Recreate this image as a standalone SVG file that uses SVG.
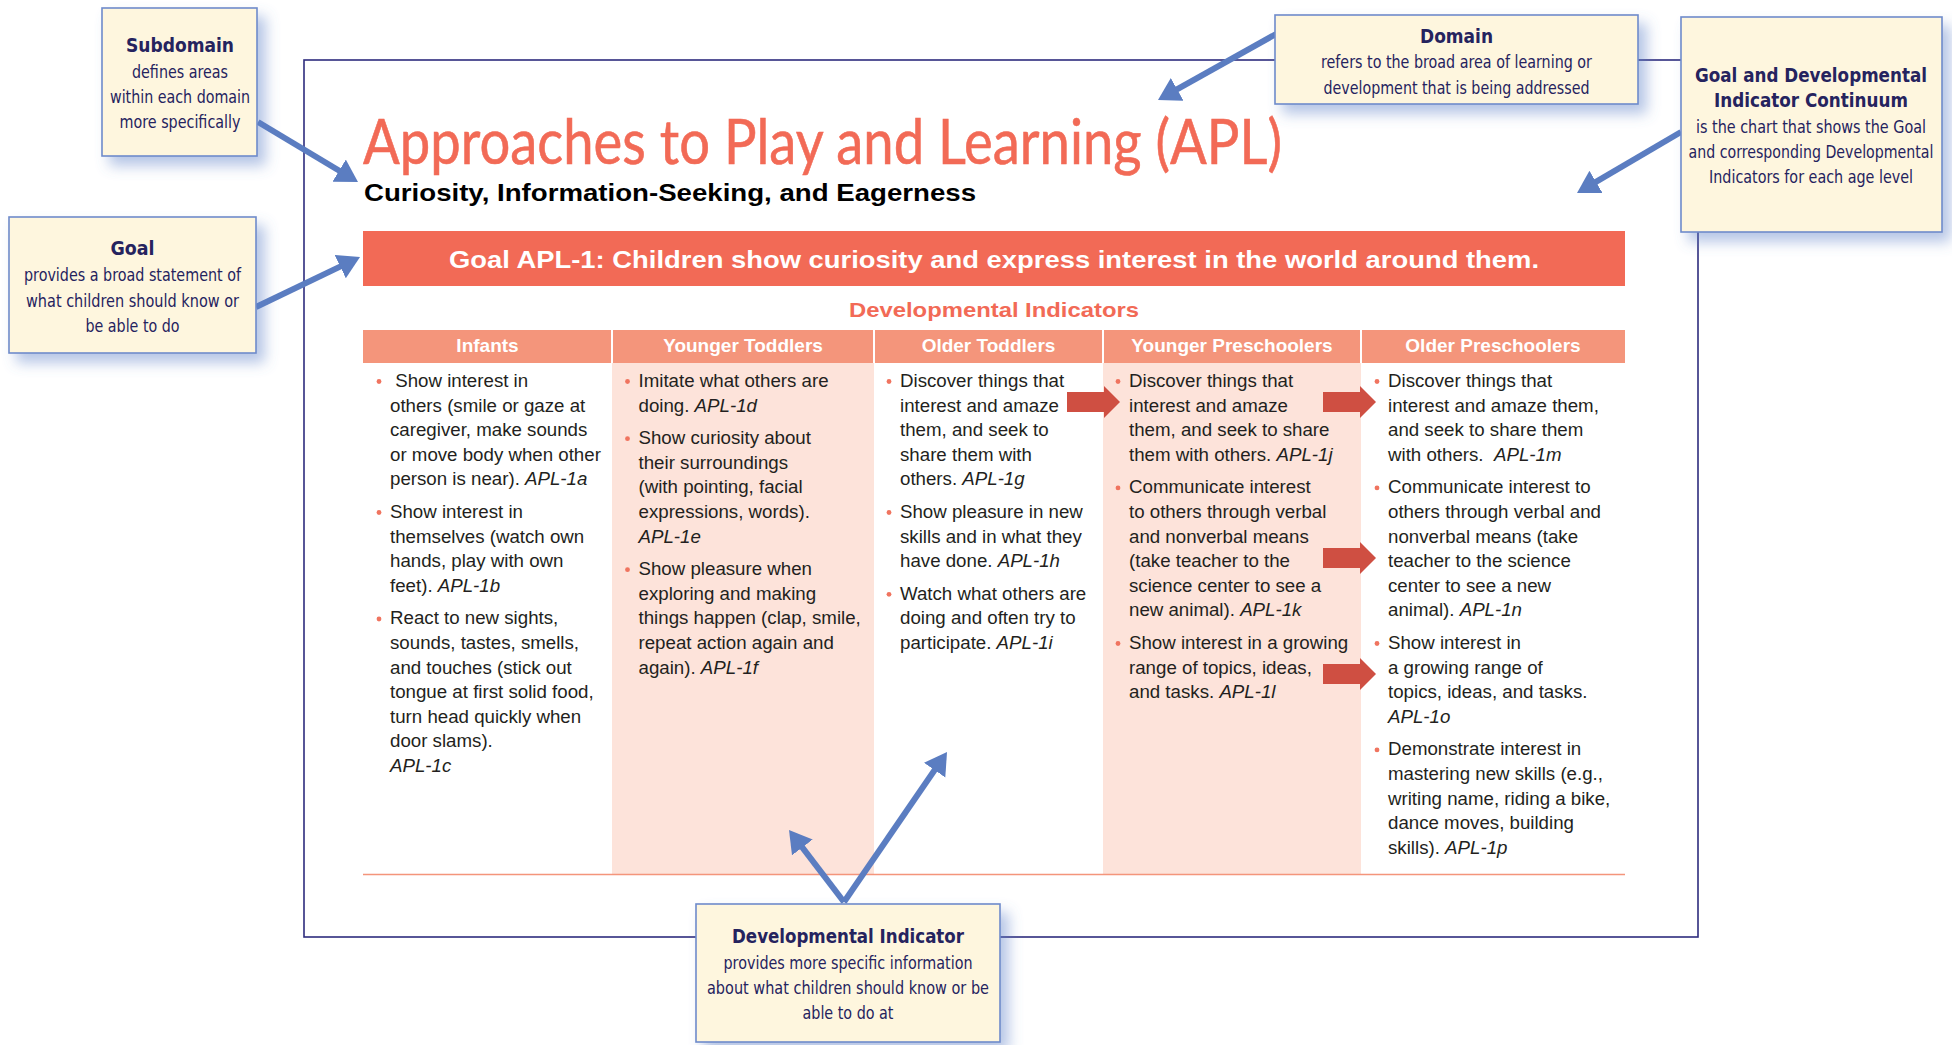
<svg xmlns="http://www.w3.org/2000/svg" width="1952" height="1045" viewBox="0 0 1952 1045">
<style>
.cbox{fill:#FEF6DE;stroke:#6E8BCB;stroke-width:1.6;filter:url(#sh)}
.ct{font-family:"Liberation Sans Narrow","DejaVu Sans Condensed","Liberation Sans",sans-serif;fill:#25235E;text-anchor:middle}
.ctb{font-size:20px;font-weight:bold}
.ctr{font-size:18.5px}
.blue{stroke:#5B7DC1;stroke-width:6;fill:none;marker-end:url(#ah)}
.body{font-family:"Liberation Sans",Arial,sans-serif;font-size:18.7px;fill:#231F20}
.it{font-style:italic}
.hd{font-family:"Liberation Sans",Arial,sans-serif;font-size:19px;font-weight:bold;fill:#fff;text-anchor:middle}
.bul{fill:#F0745F}
.red{fill:#CF4F42}
</style>
<defs>
<filter id="sh" x="-20%" y="-20%" width="150%" height="160%">
<feDropShadow dx="8" dy="9" stdDeviation="7" flood-color="#5C7EC6" flood-opacity="0.45"/>
</filter>
<marker id="ah" markerUnits="userSpaceOnUse" markerWidth="24" markerHeight="28" refX="8" refY="13" orient="auto">
<path d="M0,0 L22,13 L0,26 Z" fill="#5B7DC1"/>
</marker>
<path id="ra" d="M0,-10 H37 V-16 L53,0 L37,16 V10 H0 Z"/>
</defs>
<rect width="1952" height="1045" fill="#fff"/>

<g id="frame">
<rect x="304" y="60" width="1394" height="877" fill="none" stroke="#2E2C7E" stroke-width="1.6"/>
</g>

<g id="page">
<text x="363" y="164" font-family="Lato,'Open Sans',sans-serif" font-size="62" fill="#F26A56" stroke="#F26A56" stroke-width="0.6" textLength="919" lengthAdjust="spacingAndGlyphs">Approaches to Play and Learning (APL)</text>
<text x="364" y="201" font-family="'Liberation Sans',Arial,sans-serif" font-size="23" font-weight="bold" fill="#000" textLength="612" lengthAdjust="spacingAndGlyphs">Curiosity, Information-Seeking, and Eagerness</text>
<rect x="363" y="231" width="1262" height="55" fill="#F26A56"/>
<text x="994" y="268" font-family="'Liberation Sans',Arial,sans-serif" font-size="24" font-weight="bold" fill="#fff" text-anchor="middle" textLength="1090" lengthAdjust="spacingAndGlyphs">Goal APL-1: Children show curiosity and express interest in the world around them.</text>
<text x="994" y="317" font-family="'Liberation Sans',Arial,sans-serif" font-size="21" font-weight="bold" fill="#F26A56" text-anchor="middle" textLength="290" lengthAdjust="spacingAndGlyphs">Developmental Indicators</text>
<rect x="612" y="363" width="262" height="511" fill="#FDE3DA"/>
<rect x="1103" y="363" width="258" height="511" fill="#FDE3DA"/>
<rect x="363" y="330" width="1262" height="33" fill="#F4957B"/>
<g stroke="#fff" stroke-width="2">
<line x1="612" y1="330" x2="612" y2="363"/>
<line x1="874" y1="330" x2="874" y2="363"/>
<line x1="1103" y1="330" x2="1103" y2="363"/>
<line x1="1361" y1="330" x2="1361" y2="363"/>
</g>
<line x1="363" y1="874.5" x2="1625" y2="874.5" stroke="#F4957B" stroke-width="1.5"/>
<text class="hd" x="487.5" y="352">Infants</text>
<text class="hd" x="743" y="352">Younger Toddlers</text>
<text class="hd" x="988.5" y="352">Older Toddlers</text>
<text class="hd" x="1232" y="352">Younger Preschoolers</text>
<text class="hd" x="1493" y="352">Older Preschoolers</text>
</g>

<g id="col-infants">
<circle class="bul" cx="379" cy="381.5" r="2.4"/>
<circle class="bul" cx="379" cy="512.5" r="2.4"/>
<circle class="bul" cx="379" cy="619" r="2.4"/>
<text class="body" xml:space="preserve"><tspan x="390" y="387"> Show interest in</tspan><tspan x="390" dy="24.6">others (smile or gaze at</tspan><tspan x="390" dy="24.6">caregiver, make sounds</tspan><tspan x="390" dy="24.6">or move body when other</tspan><tspan x="390" dy="24.6">person is near). <tspan class="it">APL-1a</tspan></tspan></text>
<text class="body"><tspan x="390" y="518">Show interest in</tspan><tspan x="390" dy="24.6">themselves (watch own</tspan><tspan x="390" dy="24.6">hands, play with own</tspan><tspan x="390" dy="24.6">feet). <tspan class="it">APL-1b</tspan></tspan></text>
<text class="body"><tspan x="390" y="624.4">React to new sights,</tspan><tspan x="390" dy="24.6">sounds, tastes, smells,</tspan><tspan x="390" dy="24.6">and touches (stick out</tspan><tspan x="390" dy="24.6">tongue at first solid food,</tspan><tspan x="390" dy="24.6">turn head quickly when</tspan><tspan x="390" dy="24.6">door slams).</tspan><tspan x="390" dy="24.6" class="it">APL-1c</tspan></text>
</g>

<g id="col-younger-toddlers">
<circle class="bul" cx="627.5" cy="381.5" r="2.4"/>
<circle class="bul" cx="627.5" cy="438.7" r="2.4"/>
<circle class="bul" cx="627.5" cy="569.7" r="2.4"/>
<text class="body"><tspan x="638.5" y="387">Imitate what others are</tspan><tspan x="638.5" dy="24.6">doing. <tspan class="it">APL-1d</tspan></tspan></text>
<text class="body"><tspan x="638.5" y="444.2">Show curiosity about</tspan><tspan x="638.5" dy="24.6">their surroundings</tspan><tspan x="638.5" dy="24.6">(with pointing, facial</tspan><tspan x="638.5" dy="24.6">expressions, words).</tspan><tspan x="638.5" dy="24.6" class="it">APL-1e</tspan></text>
<text class="body"><tspan x="638.5" y="575.2">Show pleasure when</tspan><tspan x="638.5" dy="24.6">exploring and making</tspan><tspan x="638.5" dy="24.6">things happen (clap, smile,</tspan><tspan x="638.5" dy="24.6">repeat action again and</tspan><tspan x="638.5" dy="24.6">again). <tspan class="it">APL-1f</tspan></tspan></text>
</g>

<g id="col-older-toddlers">
<circle class="bul" cx="889" cy="381.5" r="2.4"/>
<circle class="bul" cx="889" cy="512.5" r="2.4"/>
<circle class="bul" cx="889" cy="594.3" r="2.4"/>
<text class="body"><tspan x="900" y="387">Discover things that</tspan><tspan x="900" dy="24.6">interest and amaze</tspan><tspan x="900" dy="24.6">them, and seek to</tspan><tspan x="900" dy="24.6">share them with</tspan><tspan x="900" dy="24.6">others. <tspan class="it">APL-1g</tspan></tspan></text>
<text class="body"><tspan x="900" y="518">Show pleasure in new</tspan><tspan x="900" dy="24.6">skills and in what they</tspan><tspan x="900" dy="24.6">have done. <tspan class="it">APL-1h</tspan></tspan></text>
<text class="body"><tspan x="900" y="599.8">Watch what others are</tspan><tspan x="900" dy="24.6">doing and often try to</tspan><tspan x="900" dy="24.6">participate. <tspan class="it">APL-1i</tspan></tspan></text>
</g>

<g id="col-younger-preschoolers">
<circle class="bul" cx="1118" cy="381.5" r="2.4"/>
<circle class="bul" cx="1118" cy="487.9" r="2.4"/>
<circle class="bul" cx="1118" cy="643.5" r="2.4"/>
<text class="body"><tspan x="1129" y="387">Discover things that</tspan><tspan x="1129" dy="24.6">interest and amaze</tspan><tspan x="1129" dy="24.6">them, and seek to share</tspan><tspan x="1129" dy="24.6">them with others. <tspan class="it">APL-1j</tspan></tspan></text>
<text class="body"><tspan x="1129" y="493.4">Communicate interest</tspan><tspan x="1129" dy="24.6">to others through verbal</tspan><tspan x="1129" dy="24.6">and nonverbal means</tspan><tspan x="1129" dy="24.6">(take teacher to the</tspan><tspan x="1129" dy="24.6">science center to see a</tspan><tspan x="1129" dy="24.6">new animal). <tspan class="it">APL-1k</tspan></tspan></text>
<text class="body"><tspan x="1129" y="649">Show interest in a growing</tspan><tspan x="1129" dy="24.6">range of topics, ideas,</tspan><tspan x="1129" dy="24.6">and tasks. <tspan class="it">APL-1l</tspan></tspan></text>
</g>

<g id="col-older-preschoolers">
<circle class="bul" cx="1377" cy="381.5" r="2.4"/>
<circle class="bul" cx="1377" cy="487.9" r="2.4"/>
<circle class="bul" cx="1377" cy="643.5" r="2.4"/>
<circle class="bul" cx="1377" cy="749.9" r="2.4"/>
<text class="body" xml:space="preserve"><tspan x="1388" y="387">Discover things that</tspan><tspan x="1388" dy="24.6">interest and amaze them,</tspan><tspan x="1388" dy="24.6">and seek to share them</tspan><tspan x="1388" dy="24.6">with others.  <tspan class="it">APL-1m</tspan></tspan></text>
<text class="body"><tspan x="1388" y="493.4">Communicate interest to</tspan><tspan x="1388" dy="24.6">others through verbal and</tspan><tspan x="1388" dy="24.6">nonverbal means (take</tspan><tspan x="1388" dy="24.6">teacher to the science</tspan><tspan x="1388" dy="24.6">center to see a new</tspan><tspan x="1388" dy="24.6">animal). <tspan class="it">APL-1n</tspan></tspan></text>
<text class="body"><tspan x="1388" y="649">Show interest in</tspan><tspan x="1388" dy="24.6">a growing range of</tspan><tspan x="1388" dy="24.6">topics, ideas, and tasks.</tspan><tspan x="1388" dy="24.6" class="it">APL-1o</tspan></text>
<text class="body"><tspan x="1388" y="755.4">Demonstrate interest in</tspan><tspan x="1388" dy="24.6">mastering new skills (e.g.,</tspan><tspan x="1388" dy="24.6">writing name, riding a bike,</tspan><tspan x="1388" dy="24.6">dance moves, building</tspan><tspan x="1388" dy="24.6">skills). <tspan class="it">APL-1p</tspan></tspan></text>
</g>

<g id="connectors">
<use href="#ra" class="red" x="1067" y="402"/>
<use href="#ra" class="red" x="1323" y="402"/>
<use href="#ra" class="red" x="1323" y="558"/>
<use href="#ra" class="red" x="1323" y="674"/>
<line class="blue" x1="258" y1="122" x2="346" y2="174.8"/>
<line class="blue" x1="256" y1="307" x2="347.4" y2="263.1"/>
<line class="blue" x1="1276" y1="34" x2="1170.2" y2="93.2"/>
<line class="blue" x1="1681" y1="132" x2="1589.1" y2="185.9"/>
<line class="blue" x1="844" y1="902" x2="797.5" y2="841.1"/>
<line class="blue" x1="844" y1="902" x2="939.1" y2="763.5"/>
</g>

<g id="subdomain">
<rect class="cbox" x="102" y="8" width="155" height="148"/>
<text class="ct ctb" x="180" y="52" textLength="108" lengthAdjust="spacingAndGlyphs">Subdomain</text>
<text class="ct ctr" x="180" y="78" textLength="96" lengthAdjust="spacingAndGlyphs">defines areas</text>
<text class="ct ctr" x="180" y="103" textLength="140" lengthAdjust="spacingAndGlyphs">within each domain</text>
<text class="ct ctr" x="180" y="128" textLength="121" lengthAdjust="spacingAndGlyphs">more specifically</text>
</g>

<g id="goal">
<rect class="cbox" x="9" y="217" width="247" height="136"/>
<text class="ct ctb" x="132.5" y="255" textLength="44" lengthAdjust="spacingAndGlyphs">Goal</text>
<text class="ct ctr" x="132.5" y="281" textLength="217" lengthAdjust="spacingAndGlyphs">provides a broad statement of</text>
<text class="ct ctr" x="132.5" y="306.5" textLength="213" lengthAdjust="spacingAndGlyphs">what children should know or</text>
<text class="ct ctr" x="132.5" y="331.5" textLength="94" lengthAdjust="spacingAndGlyphs">be able to do</text>
</g>

<g id="domain">
<rect class="cbox" x="1275" y="15" width="363" height="89"/>
<text class="ct ctb" x="1456.5" y="42.5" textLength="73" lengthAdjust="spacingAndGlyphs">Domain</text>
<text class="ct ctr" x="1456.5" y="68" textLength="271" lengthAdjust="spacingAndGlyphs">refers to the broad area of learning or</text>
<text class="ct ctr" x="1456.5" y="94" textLength="266" lengthAdjust="spacingAndGlyphs">development that is being addressed</text>
</g>

<g id="goal-continuum">
<rect class="cbox" x="1681" y="17" width="261" height="215"/>
<text class="ct ctb" x="1811" y="81.5" textLength="232" lengthAdjust="spacingAndGlyphs">Goal and Developmental</text>
<text class="ct ctb" x="1811" y="107" textLength="194" lengthAdjust="spacingAndGlyphs">Indicator Continuum</text>
<text class="ct ctr" x="1811" y="133" textLength="230" lengthAdjust="spacingAndGlyphs">is the chart that shows the Goal</text>
<text class="ct ctr" x="1811" y="158" textLength="245" lengthAdjust="spacingAndGlyphs">and corresponding Developmental</text>
<text class="ct ctr" x="1811" y="183" textLength="204" lengthAdjust="spacingAndGlyphs">Indicators for each age level</text>
</g>

<g id="developmental-indicator">
<rect class="cbox" x="696" y="904" width="304" height="138"/>
<text class="ct ctb" x="848" y="942.5" textLength="232" lengthAdjust="spacingAndGlyphs">Developmental Indicator</text>
<text class="ct ctr" x="848" y="969" textLength="249" lengthAdjust="spacingAndGlyphs">provides more specific information</text>
<text class="ct ctr" x="848" y="994" textLength="282" lengthAdjust="spacingAndGlyphs">about what children should know or be</text>
<text class="ct ctr" x="848" y="1019" textLength="91" lengthAdjust="spacingAndGlyphs">able to do at</text>
</g>
</svg>
